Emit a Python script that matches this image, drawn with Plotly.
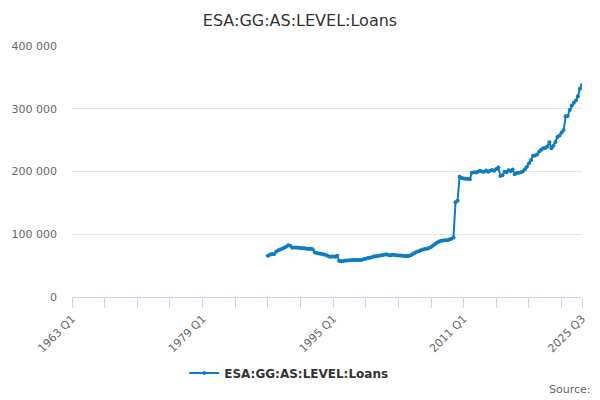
import plotly.graph_objects as go

# Category axis: quarters 1963 Q1 .. 2025 Q3
first_year = 1963
last_year = 2025
last_q = 3
categories = [f"{y} Q{q}" for y in range(first_year, last_year + 1) for q in range(1, 5)
              if not (y == last_year and q > last_q)]

tick_labels = ["1963 Q1", "1979 Q1", "1995 Q1", "2011 Q1", "2025 Q3"]

series_name = "ESA:GG:AS:LEVEL:Loans"
series_start = "1987 Q1"

# values in thousands, 1987 Q1 .. 2025 Q3
values_k = [
    65.8, 67.5, 68.5, 68.0,      # 1987
    72.0, 74.0, 75.5, 77.0,      # 1988
    78.5, 80.0, 82.5, 81.5,      # 1989
    78.5, 79.0, 79.0, 78.5,      # 1990
    78.0, 77.8, 77.5, 77.0,      # 1991
    76.5, 77.0, 76.0, 71.0,      # 1992
    70.0, 69.5, 69.0, 68.0,      # 1993
    67.5, 66.0, 64.5, 64.0,      # 1994
    64.5, 64.0, 65.8, 57.5,      # 1995
    57.0, 57.5, 58.0, 58.3,      # 1996
    58.5, 58.5, 58.8, 59.0,      # 1997
    59.0, 58.8, 59.0, 60.5,      # 1998
    61.0, 62.0, 62.5, 63.5,      # 1999
    64.5, 65.0, 65.5, 66.0,      # 2000
    66.5, 67.5, 68.0, 67.0,      # 2001
    66.5, 67.5, 67.0, 66.5,      # 2002
    66.3, 66.0, 65.8, 65.5,      # 2003
    65.3, 65.5, 66.5, 68.5,      # 2004
    70.0, 72.0, 73.0, 74.5,      # 2005
    75.5, 76.5, 77.0, 78.0,      # 2006
    79.5, 82.0, 84.5, 87.0,      # 2007
    88.5, 89.5, 90.0, 90.5,      # 2008
    90.5, 91.5, 93.0, 95.0,      # 2009
    151.0, 153.5, 191.5, 189.5,  # 2010
    189.0, 188.5, 188.5, 187.5,  # 2011
    198.0, 199.0, 198.5, 199.5,  # 2012
    201.0, 200.0, 199.5, 201.5,  # 2013
    199.5, 201.0, 202.5, 201.0,  # 2014
    204.0, 206.5, 193.0, 194.0,  # 2015
    199.5, 199.0, 202.0, 200.5,  # 2016
    203.0, 195.5, 197.5, 198.0,  # 2017
    199.0, 200.0, 203.5, 207.7,  # 2018
    213.0, 218.0, 225.0, 225.5,  # 2019
    227.0, 232.0, 234.5, 237.0,  # 2020
    237.5, 240.0, 246.5, 237.0,  # 2021
    241.0, 247.0, 255.0, 257.5,  # 2022
    262.0, 266.0, 288.0, 288.5,  # 2023
    298.0, 305.0, 309.5, 313.0,  # 2024
    320.0, 332.0, 337.8,         # 2025
]

start_idx = categories.index(series_start)
x_vals = categories[start_idx:start_idx + len(values_k)]
y_vals = [v * 1000 for v in values_k]

tick_vals = [categories[i] for i in range(0, len(categories), 16)] + [categories[-1]]
tick_text = [c if c in tick_labels else "" for c in tick_vals]

line_color = "#0f7cc1"

fig = go.Figure()
fig.add_trace(go.Scatter(
    x=x_vals, y=y_vals, name=series_name, mode="lines+markers",
    line=dict(color=line_color, width=2),
    marker=dict(color=line_color, size=4),
))

fig.update_layout(
    width=600, height=400,
    paper_bgcolor="white", plot_bgcolor="white",
    font=dict(family="DejaVu Sans", color="#666666", size=11),
    separators=". ",
    title=dict(text=series_name, x=0.5, xanchor="center",
               y=0.95, yanchor="middle", yref="container",
               font=dict(size=16, color="#333333")),
    margin=dict(l=72, r=18, t=46, b=103, autoexpand=False),
    showlegend=True,
    legend=dict(orientation="h", x=0.425, xanchor="center", y=-0.303, yanchor="middle",
                itemwidth=30,
                font=dict(size=12, color="#333333", weight="bold")),
    xaxis=dict(
        type="category", categoryorder="array", categoryarray=categories,
        range=[0, len(categories) - 1], automargin=False,
        tickmode="array", tickvals=tick_vals, ticktext=tick_text,
        tickangle=-45, ticks="outside", ticklen=10, tickcolor="#ccd6eb",
        showline=True, linecolor="#ccd6eb", linewidth=1,
        showgrid=False, zeroline=False,
        tickfont=dict(size=11, color="#666666"),
    ),
    yaxis=dict(
        range=[0, 400000], tickvals=[0, 100000, 200000, 300000, 400000],
        automargin=False,
        tickformat=",d", showgrid=True, gridcolor="#e6e6e6", gridwidth=1,
        zeroline=False, showline=False, ticks="", ticklabelstandoff=14,
        tickfont=dict(size=11, color="#666666"),
    ),
)

fig.add_annotation(text="Source:", xref="paper", yref="paper", x=1.0157, xanchor="right",
                   xshift=3, y=-0.37, yanchor="middle", showarrow=False,
                   font=dict(size=11, color="#666666"))

fig.write_html("out.html", config={"displayModeBar": False},
               post_script="document.body.style.margin='0';")
